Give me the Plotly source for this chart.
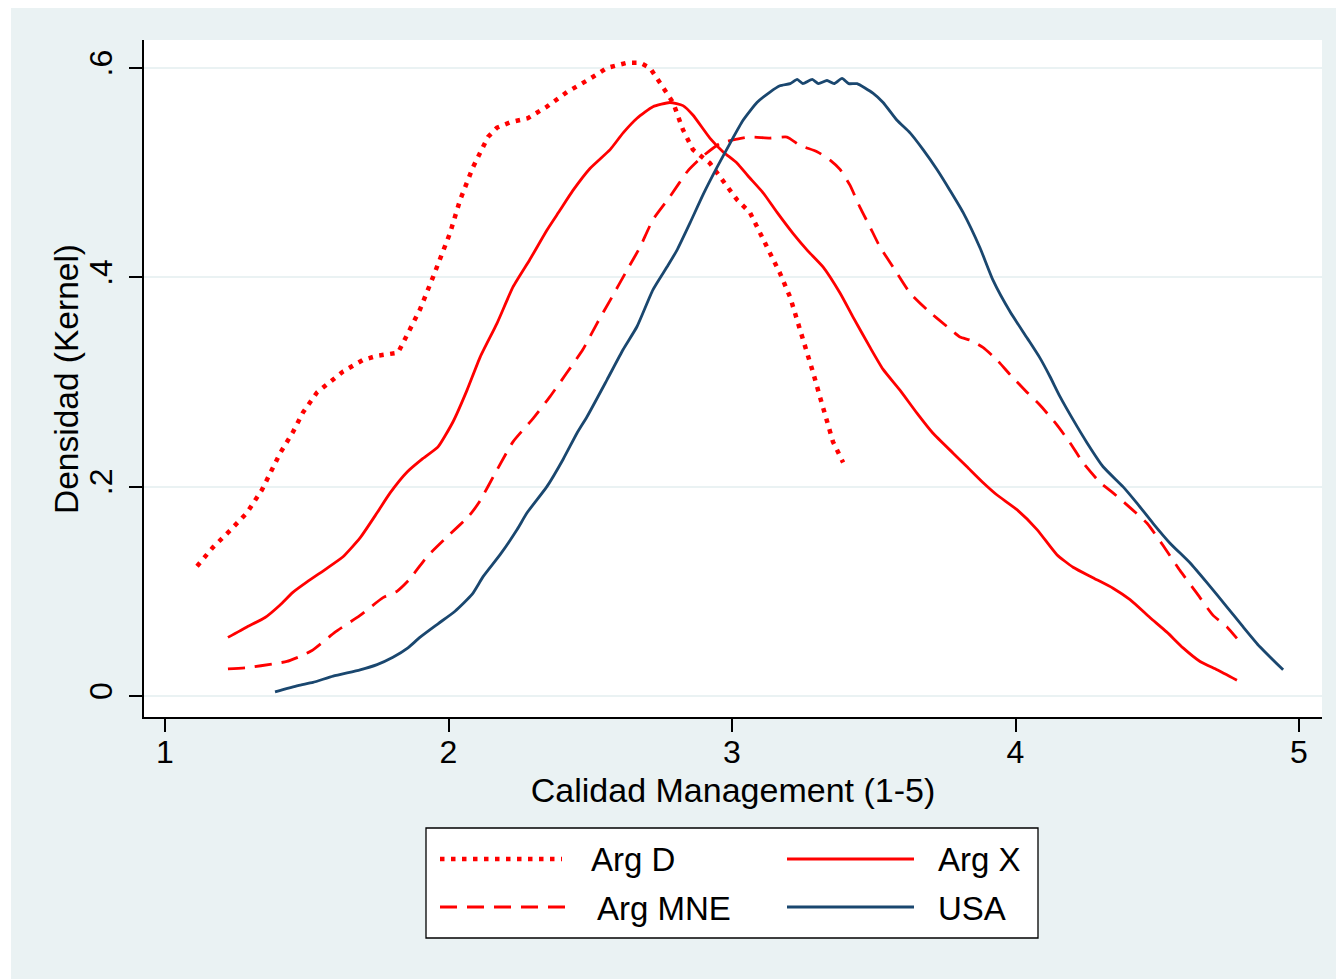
import plotly.graph_objects as go

# ---------------- data ----------------
argd_x = [1.113, 1.169, 1.229, 1.289, 1.342, 1.406, 1.451, 1.487, 1.536, 1.582,
          1.628, 1.698, 1.748, 1.822, 1.864, 1.899, 1.945, 2.005, 2.041, 2.086,
          2.139, 2.171, 2.217, 2.280, 2.347, 2.418, 2.489, 2.559, 2.630, 2.676,
          2.711, 2.757, 2.792, 2.827, 2.862, 2.922, 2.968, 3.018, 3.063, 3.099,
          3.134, 3.169, 3.205, 3.240, 3.265, 3.286, 3.310, 3.335, 3.356, 3.392]
argd_y = [0.124, 0.142, 0.158, 0.175, 0.197, 0.232, 0.252, 0.271, 0.290, 0.300,
          0.310, 0.321, 0.325, 0.328, 0.350, 0.369, 0.400, 0.442, 0.474, 0.505,
          0.534, 0.543, 0.548, 0.552, 0.563, 0.577, 0.588, 0.600, 0.605, 0.605,
          0.600, 0.582, 0.567, 0.541, 0.522, 0.509, 0.493, 0.474, 0.462, 0.442,
          0.423, 0.404, 0.381, 0.350, 0.331, 0.309, 0.286, 0.264, 0.243, 0.223]

argx_x = [1.222, 1.289, 1.353, 1.406, 1.451, 1.501, 1.571, 1.628, 1.688, 1.748,
          1.794, 1.854, 1.910, 1.963, 2.016, 2.065, 2.112, 2.171, 2.228,
          2.287, 2.347, 2.393, 2.439, 2.499, 2.570, 2.616, 2.665, 2.721, 2.781,
          2.827, 2.862, 2.922, 2.968, 3.018, 3.056, 3.109, 3.159, 3.215, 3.265,
          3.321, 3.381, 3.427, 3.487, 3.533, 3.593, 3.653, 3.709, 3.780, 3.829,
          3.885, 3.935, 4.005, 4.076, 4.146, 4.203, 4.273, 4.344, 4.404, 4.474,
          4.534, 4.591, 4.651, 4.711, 4.781]
argx_y = [0.056, 0.066, 0.075, 0.087, 0.099, 0.109, 0.122, 0.133, 0.151, 0.175,
          0.194, 0.214, 0.227, 0.238, 0.262, 0.292, 0.324, 0.356, 0.391,
          0.417, 0.445, 0.464, 0.483, 0.504, 0.522, 0.538, 0.552, 0.563, 0.567,
          0.564, 0.555, 0.533, 0.520, 0.509, 0.497, 0.481, 0.462, 0.442, 0.426,
          0.410, 0.385, 0.362, 0.333, 0.312, 0.292, 0.270, 0.251, 0.232, 0.219,
          0.204, 0.192, 0.178, 0.159, 0.135, 0.123, 0.113, 0.103, 0.092, 0.075,
          0.061, 0.046, 0.033, 0.025, 0.015]

argmne_x = [1.222, 1.289, 1.388, 1.430, 1.487, 1.522, 1.600, 1.688, 1.769, 1.818,
            1.861, 1.924, 1.995, 2.072, 2.108, 2.171, 2.228, 2.298, 2.358, 2.418,
            2.474, 2.524, 2.570, 2.630, 2.676, 2.721, 2.781, 2.845, 2.894, 2.958,
            3.018, 3.063, 3.134, 3.194, 3.240, 3.300, 3.346, 3.381, 3.416, 3.451,
            3.487, 3.522, 3.575, 3.628, 3.688, 3.758, 3.804, 3.840, 3.885, 3.935,
            3.981, 4.041, 4.086, 4.146, 4.192, 4.238, 4.298, 4.344, 4.404, 4.464,
            4.520, 4.580, 4.640, 4.697, 4.746, 4.781]
argmne_y = [0.026, 0.027, 0.031, 0.033, 0.039, 0.044, 0.061, 0.077, 0.094, 0.100,
            0.111, 0.133, 0.152, 0.172, 0.185, 0.216, 0.243, 0.265, 0.286, 0.309,
            0.331, 0.356, 0.378, 0.407, 0.429, 0.455, 0.477, 0.502, 0.515, 0.528,
            0.532, 0.534, 0.533, 0.534, 0.526, 0.520, 0.512, 0.503, 0.488, 0.467,
            0.448, 0.429, 0.407, 0.385, 0.369, 0.353, 0.343, 0.340, 0.333, 0.321,
            0.307, 0.290, 0.278, 0.259, 0.242, 0.223, 0.204, 0.194, 0.180, 0.165,
            0.144, 0.120, 0.098, 0.077, 0.066, 0.055]

usa_x = [1.388, 1.469, 1.522, 1.593, 1.688, 1.748, 1.804, 1.857, 1.899, 1.963,
         2.023, 2.083, 2.122, 2.182, 2.242, 2.277, 2.347, 2.404, 2.453, 2.489,
         2.559, 2.616, 2.665, 2.721, 2.771, 2.806, 2.852, 2.898, 2.947, 2.993,
         3.039, 3.088, 3.134, 3.169, 3.205, 3.230, 3.250, 3.283, 3.305, 3.335,
         3.360, 3.388, 3.412, 3.441, 3.497, 3.533, 3.582, 3.628, 3.674, 3.723,
         3.769, 3.815, 3.875, 3.921, 3.981, 4.041, 4.086, 4.122, 4.157, 4.203,
         4.252, 4.309, 4.379, 4.429, 4.485, 4.545, 4.616, 4.676, 4.746, 4.803,
         4.862, 4.944]
usa_y = [0.004, 0.010, 0.013, 0.019, 0.025, 0.030, 0.037, 0.046, 0.056, 0.069,
         0.081, 0.097, 0.114, 0.135, 0.159, 0.175, 0.200, 0.226, 0.251, 0.267,
         0.302, 0.331, 0.353, 0.388, 0.410, 0.426, 0.452, 0.479, 0.505, 0.528,
         0.550, 0.567, 0.577, 0.583, 0.585, 0.589, 0.585, 0.589, 0.585, 0.588,
         0.585, 0.590, 0.585, 0.585, 0.576, 0.567, 0.550, 0.538, 0.522, 0.503,
         0.483, 0.462, 0.428, 0.397, 0.367, 0.342, 0.323, 0.305, 0.286, 0.264,
         0.242, 0.219, 0.200, 0.184, 0.165, 0.146, 0.127, 0.108, 0.085, 0.066,
         0.047, 0.025]

series_names = ["Arg D", "Arg X", "Arg MNE", "USA"]
x_ticks = [1, 2, 3, 4, 5]
y_ticks = [0, 0.2, 0.4, 0.6]
y_ticktext = ["0", ".2", ".4", ".6"]

# ---------------- styling ----------------
RED = "#FF0000"
NAVY = "#1A476F"
BG = "#EAF2F3"
FONT = "Liberation Sans, Arial, Helvetica, sans-serif"

DOT = "4.5px,6.5px"
DASH = "17px,10px"
LW = 2.8

fig = go.Figure()
fig.add_trace(go.Scatter(x=argd_x, y=argd_y, mode="lines", name=series_names[0],
                         line=dict(color=RED, width=4.5, dash=DOT)))
fig.add_trace(go.Scatter(x=argx_x, y=argx_y, mode="lines", name=series_names[1],
                         line=dict(color=RED, width=LW, shape="spline", smoothing=0.5)))
fig.add_trace(go.Scatter(x=argmne_x, y=argmne_y, mode="lines", name=series_names[2],
                         line=dict(color=RED, width=LW, dash=DASH, shape="spline", smoothing=0.5)))
fig.add_trace(go.Scatter(x=usa_x, y=usa_y, mode="lines", name=series_names[3],
                         line=dict(color=NAVY, width=LW, shape="spline", smoothing=0.5)))

# The page body adds an 8px offset; all positions below are page pixels minus 8.
OFF = 8
FW, FH = 1344 - OFF, 979 - OFF
L, R, T, B = 144 - OFF, 1322 - OFF, 40 - OFF, 717 - OFF
W, H = R - L, B - T


def px(xp):
    return (xp - OFF - L) / W


def py(yp):
    return (B - (yp - OFF)) / H


shapes = [
    # thin white strip at the left outside the light background
    dict(type="rect", xref="paper", yref="paper", x0=px(-50), x1=px(11), y0=py(1100), y1=py(-50),
         fillcolor="white", line=dict(width=0), layer="above"),
    # legend box
    dict(type="rect", xref="paper", yref="paper", x0=px(426), x1=px(1038), y0=py(938), y1=py(828),
         fillcolor="white", line=dict(color="black", width=1.3)),
    # legend samples
    dict(type="line", xref="paper", yref="paper", x0=px(440), x1=px(562), y0=py(859), y1=py(859),
         line=dict(color=RED, width=4.5, dash=DOT)),
    dict(type="line", xref="paper", yref="paper", x0=px(440), x1=px(568), y0=py(907), y1=py(907),
         line=dict(color=RED, width=LW, dash=DASH)),
    dict(type="line", xref="paper", yref="paper", x0=px(787), x1=px(914), y0=py(859), y1=py(859),
         line=dict(color=RED, width=LW)),
    dict(type="line", xref="paper", yref="paper", x0=px(787), x1=px(914), y0=py(907), y1=py(907),
         line=dict(color=NAVY, width=LW)),
]

legend_text = [
    (series_names[0], 589, 860),
    (series_names[2], 595, 908),
    (series_names[1], 936, 860),
    (series_names[3], 936, 908),
]
annotations = [
    dict(text=t, xref="paper", yref="paper", x=px(xx), y=py(yy), xanchor="left", yanchor="middle",
         showarrow=False, font=dict(family=FONT, size=33, color="black"))
    for t, xx, yy in legend_text
]
# y-axis title
annotations.append(dict(text="Densidad (Kernel)", xref="paper", yref="paper",
                        x=px(67), y=py(379), xanchor="center", yanchor="middle",
                        textangle=-90, showarrow=False,
                        font=dict(family=FONT, size=33.5, color="black")))

fig.update_layout(
    width=FW, height=FH,
    margin=dict(l=L, r=FW - R, t=T, b=FH - B, pad=0),
    paper_bgcolor=BG,
    plot_bgcolor="white",
    showlegend=False,
    font=dict(family=FONT, size=32, color="black"),
    shapes=shapes,
    annotations=annotations,
)

fig.update_xaxes(
    range=[0.9259, 5.0811],
    tickmode="array", tickvals=x_ticks, ticktext=[str(v) for v in x_ticks],
    ticks="outside", ticklen=13, tickwidth=1.5, tickcolor="black",
    ticklabelstandoff=-7,
    showline=True, linecolor="black", linewidth=1.5,
    showgrid=False, zeroline=False,
    tickfont=dict(size=32),
    title=dict(text="Calidad Management (1-5)", font=dict(size=34), standoff=9),
)
fig.update_yaxes(
    range=[-0.02006, 0.6267],
    tickmode="array", tickvals=y_ticks, ticktext=y_ticktext,
    tickangle=-90,
    ticks="outside", ticklen=13, tickwidth=1.5, tickcolor="black",
    ticklabelstandoff=4,
    showline=True, linecolor="black", linewidth=1.5,
    showgrid=True, gridcolor=BG, gridwidth=2,
    zeroline=False,
    tickfont=dict(size=32),
)

fig.write_html("out.html")
